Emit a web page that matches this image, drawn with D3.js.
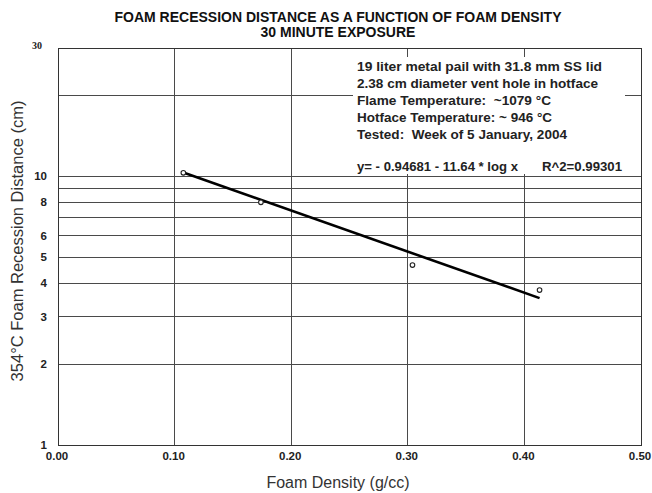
<!DOCTYPE html>
<html><head><meta charset="utf-8">
<script src="https://cdn.jsdelivr.net/npm/d3@7"></script>
<style>body{margin:0;background:#fff;} svg{display:block;} text{white-space:pre;}</style>
</head><body>
<svg id="c" width="652" height="493"></svg>
<script>
const densities = [0.1075, 0.174, 0.304, 0.413];
const distances = [10.3, 8.0, 4.67, 3.77];
const fitX = [0.1075, 0.413];
const fitY = [10.33, 3.52];
const xTicks = [0, 0.1, 0.2, 0.3, 0.4, 0.5];
const yGrid = [1, 2, 3, 4, 5, 6, 7, 8, 9, 10, 20, 30];
const yLabels = [1, 2, 3, 4, 5, 6, 8, 10];
const titleLines = ["FOAM RECESSION DISTANCE AS A FUNCTION OF FOAM DENSITY", "30 MINUTE EXPOSURE"];
const noteLines = ["19 liter metal pail with 31.8 mm SS lid", "2.38 cm diameter vent hole in hotface",
  "Flame Temperature:  ~1079 °C", "Hotface Temperature: ~ 946 °C", "Tested:  Week of 5 January, 2004"];
const eqText = "y= - 0.94681 - 11.64 * log x";
const r2Text = "R^2=0.99301";

const svg = d3.select("#c");
const L = 58, R = 641, T = 48, B = 445;
const x = d3.scaleLinear().domain([0, 0.5]).range([L, R]);
const y = d3.scaleLog().domain([1, 30]).range([B, T]);
const gridCol = "#4a4a4a";
const sans = "Liberation Sans, Arial, sans-serif";

// gridlines
svg.append("g").selectAll("line").data(yGrid).join("line")
  .attr("x1", L).attr("x2", R).attr("y1", d => y(d)).attr("y2", d => y(d))
  .attr("stroke", gridCol).attr("stroke-width", 1).attr("shape-rendering", "crispEdges");
svg.append("g").selectAll("line").data(xTicks).join("line")
  .attr("x1", d => x(d)).attr("x2", d => x(d)).attr("y1", T).attr("y2", B)
  .attr("stroke", gridCol).attr("stroke-width", 1).attr("shape-rendering", "crispEdges");
svg.append("rect").attr("x", L).attr("y", T).attr("width", R - L).attr("height", B - T)
  .attr("fill", "none").attr("stroke", "#333").attr("shape-rendering", "crispEdges");

// annotation box
svg.append("rect").attr("x", 353).attr("y", 57).attr("width", 272).attr("height", 117).attr("fill", "#fff");
const noteWidths = [245, 241, 194, 195, 210];
const note = svg.append("g").attr("font-family", sans)
  .attr("font-weight", "bold").attr("font-size", 13.5).attr("fill", "#222");
note.selectAll("text").data(noteLines).join("text")
  .attr("x", 357).attr("y", (d, i) => 70.5 + i * 17.1)
  .attr("textLength", (d, i) => noteWidths[i]).attr("lengthAdjust", "spacingAndGlyphs")
  .text(d => d);
note.append("text").attr("x", 357).attr("y", 171).attr("textLength", 161)
  .attr("lengthAdjust", "spacingAndGlyphs").text(eqText);
note.append("text").attr("x", 542).attr("y", 171).attr("textLength", 80)
  .attr("lengthAdjust", "spacingAndGlyphs").text(r2Text);

// x tick labels
svg.append("g").selectAll("text").data(xTicks).join("text")
  .attr("x", d => x(d) - 1).attr("y", 460).attr("text-anchor", "middle")
  .attr("font-family", sans).attr("font-weight", "bold")
  .attr("font-size", 11.5).attr("fill", "#222").text(d => d3.format(".2f")(d));
// y tick labels
svg.append("g").selectAll("text").data(yLabels).join("text")
  .attr("x", 47).attr("y", d => y(d)).attr("dy", "0.35em").attr("text-anchor", "end")
  .attr("font-family", sans).attr("font-weight", "bold")
  .attr("font-size", 11.5).attr("fill", "#222").text(d => d);
svg.append("text").attr("x", 42).attr("y", y(30) + 0.5).attr("text-anchor", "end")
  .attr("font-family", "Liberation Serif, serif").attr("font-weight", "bold")
  .attr("font-size", 10).attr("fill", "#222").text("30");

// fit line
const line = d3.line().x(d => x(d[0])).y(d => y(d[1]));
svg.append("path").datum(d3.zip(fitX, fitY)).attr("d", line)
  .attr("fill", "none").attr("stroke", "#000").attr("stroke-width", 2.6);
// points
svg.append("g").selectAll("circle").data(d3.zip(densities, distances)).join("circle")
  .attr("cx", d => x(d[0])).attr("cy", d => y(d[1])).attr("r", 2.3)
  .attr("fill", "#fff").attr("stroke", "#222").attr("stroke-width", 1.1);

// titles
svg.append("g").selectAll("text").data(titleLines).join("text")
  .attr("x", 338).attr("y", (d, i) => 22 + i * 14.5).attr("text-anchor", "middle")
  .attr("font-family", sans).attr("font-weight", "bold")
  .attr("font-size", 14).attr("fill", "#111").text(d => d);
svg.append("text").attr("x", 338).attr("y", 488).attr("text-anchor", "middle")
  .attr("font-family", sans).attr("font-size", 16)
  .attr("fill", "#333").text("Foam Density (g/cc)");
svg.append("text").attr("transform", "translate(23,241) rotate(-90)").attr("text-anchor", "middle")
  .attr("font-family", sans).attr("font-size", 16.5)
  .attr("fill", "#333").text("354°C Foam Recession Distance (cm)");
</script>
</body></html>
